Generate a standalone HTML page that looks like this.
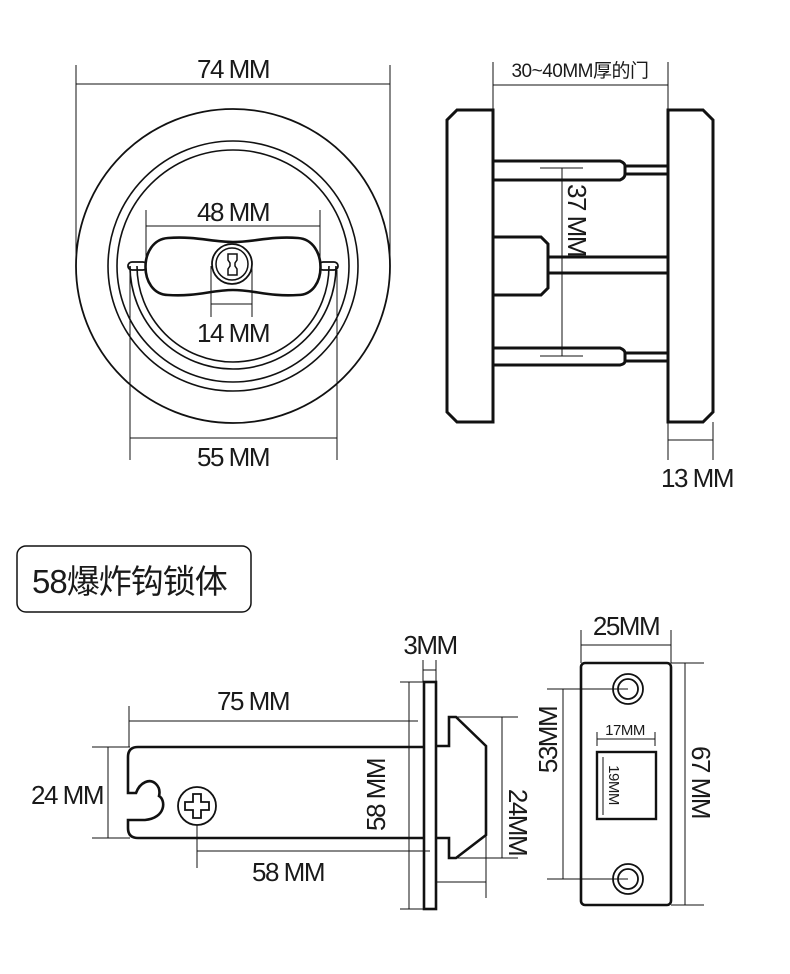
<!DOCTYPE html>
<html><head><meta charset="utf-8"><style>
html,body{margin:0;padding:0;background:#fff;}
svg{display:block;}
text{font-family:"Liberation Sans","Noto Sans CJK SC",sans-serif;fill:#1a1a1a;letter-spacing:-1.5px;}
</style></head><body>
<svg width="790" height="974" viewBox="0 0 790 974" xmlns="http://www.w3.org/2000/svg">
<g fill="none" stroke="#111">
<!-- round view -->
<circle cx="233" cy="266" r="157" stroke-width="1.8"/>
<circle cx="233" cy="266" r="125" stroke-width="1.6"/>
<circle cx="233" cy="266" r="116" stroke-width="1.6"/>
<path d="M130 266 A103 103 0 0 0 336 266" stroke-width="1.6"/>
<path d="M137 266 A96 96 0 0 0 329 266" stroke-width="1.6"/>
<rect x="128" y="262" width="19" height="8" rx="4" stroke-width="1.8"/>
<rect x="319" y="262" width="19" height="8" rx="4" stroke-width="1.8"/>
<path d="M168 238 C196 236 212 242 233 242 C254 242 270 236 298 238 C328 240 328 295 298 295 C270 297 254 290 233 290 C212 290 196 297 168 295 C138 294 138 240 168 238 Z" fill="#fff" stroke-width="2.6"/>
<circle cx="232" cy="264" r="20" stroke-width="1.8"/>
<circle cx="232" cy="264" r="16" stroke-width="1.5"/>
<path d="M228 254 H237 V260 L235 263 V266 L237 269 V275 H228 V269 L230 266 V263 L228 260 Z" stroke-width="1.5"/>
<g stroke-width="1">
<path d="M76 65 V266 M390 65 V266 M76 84 H390"/>
<path d="M146 210 V262 M320 210 V262 M146 226 H320"/>
<path d="M211 266 V317 M252 266 V317 M211 304 H252"/>
<path d="M130 270 V460 M337 270 V460 M130 438 H337"/>
</g>
<!-- side view -->
<path d="M457 110 H493 V422 H457 L447 412 V120 Z" stroke-width="3"/>
<path d="M668 110 H703 L713 120 V412 L703 422 H668 Z" stroke-width="3"/>
<path d="M493 161 H620 Q625 163 625 166 V174 Q625 178 620 180 H493" stroke-width="3"/>
<path d="M625 166 H668 M625 174 H668" stroke-width="3"/>
<path d="M493 348 H620 Q625 350 625 353 V361 Q625 364 620 365 H493" stroke-width="3"/>
<path d="M625 353 H668 M625 361 H668" stroke-width="3"/>
<path d="M493 237 H541 L548 244 V288 L541 295 H493" stroke-width="3"/>
<path d="M548 257 H668 M548 273 H668" stroke-width="3"/>
<g stroke-width="1">
<path d="M493 62 V110 M668 62 V110 M493 85 H668"/>
<path d="M562 168 V356 M540 168 H583 M540 356 H583"/>
<path d="M668 422 V460 M713 422 V460 M668 440 H713"/>
</g>
<!-- title box -->
<rect x="17" y="546" width="234" height="66" rx="9" stroke-width="1.5"/>
<!-- bolt -->
<path d="M423 747 H138 Q128 747 128 757 V793 H136 C140 782 150 778 156 784 C160 788 160 792 159 796 C166 800 166 818 145 820 H128 V828 Q128 838 138 838 H423" stroke-width="2.6"/>
<rect x="424" y="682" width="12" height="227" stroke-width="2.6"/>
<path d="M436 746 H449 V717 H456 L486 746 V835 L456 858 H449 V838 H436" stroke-width="2.6"/>
<circle cx="197" cy="806" r="19" stroke-width="1.8"/>
<path d="M193 794 H201 V802 H209 V810 H201 V818 H193 V810 H185 V802 H193 Z" stroke-width="1.8"/>
<g stroke-width="1">
<path d="M129 706 V747 M129 721 H418"/>
<path d="M92 747 H130 M92 838 H130 M108 747 V838"/>
<path d="M197 825 V868 M197 851 H430"/>
<path d="M409 682 V909 M400 682 H424 M400 909 H424"/>
<path d="M423 660 V682 M436 660 V682 M423 670 H436"/>
<path d="M456 717 H518 M456 858 H518 M502 717 V858"/>
<path d="M436 882 H486 M486 835 V898"/>
</g>
<!-- strike plate -->
<rect x="581" y="663" width="90" height="242" rx="4" stroke-width="2.6"/>
<circle cx="628" cy="689" r="15" stroke-width="1.8"/>
<circle cx="628" cy="689" r="10" stroke-width="1.8"/>
<circle cx="628" cy="879" r="15" stroke-width="1.8"/>
<circle cx="628" cy="879" r="10" stroke-width="1.8"/>
<rect x="597" y="752" width="59" height="67" stroke-width="2.4"/>
<g stroke-width="1">
<path d="M603 757 V815"/>
<path d="M597 732 V746 M655 732 V746 M597 739 H655"/>
<path d="M581 630 V663 M671 630 V663 M581 645 H671"/>
<path d="M671 663 H704 M671 905 H704 M685 663 V905"/>
<path d="M547 689 H628 M547 879 H628 M563 689 V879"/>
</g>
</g>
<!-- labels -->
<g font-size="26">
<text x="233" y="78" text-anchor="middle">74 MM</text>
<text x="233" y="221" text-anchor="middle">48 MM</text>
<text x="233" y="342" text-anchor="middle">14 MM</text>
<text x="233" y="466" text-anchor="middle">55 MM</text>
<text x="697" y="487" text-anchor="middle">13 MM</text>
<text x="253" y="710" text-anchor="middle">75 MM</text>
<text x="67" y="804" text-anchor="middle">24 MM</text>
<text x="288" y="881" text-anchor="middle">58 MM</text>
<text x="430" y="654" text-anchor="middle">3MM</text>
<text x="626" y="635" text-anchor="middle">25MM</text>
<text transform="translate(568,220) rotate(90)" text-anchor="middle">37 MM</text>
<text transform="translate(385,795) rotate(-90)" text-anchor="middle">58 MM</text>
<text transform="translate(509,822) rotate(90)" text-anchor="middle">24MM</text>
<text transform="translate(692,782) rotate(90)" text-anchor="middle">67 MM</text>
<text transform="translate(557,740) rotate(-90)" text-anchor="middle">53MM</text>
</g>
<text x="580" y="77" font-size="19" text-anchor="middle" style="letter-spacing:-0.5px">30~40MM厚的门</text>
<text x="625" y="735" font-size="15" text-anchor="middle" style="letter-spacing:-0.5px">17MM</text>
<text transform="translate(609,785) rotate(90)" font-size="15" text-anchor="middle" style="letter-spacing:-0.5px">19MM</text>
<text x="32" y="593" font-size="33" style="letter-spacing:-1px">58爆炸钩锁体</text>
</svg>
</body></html>
